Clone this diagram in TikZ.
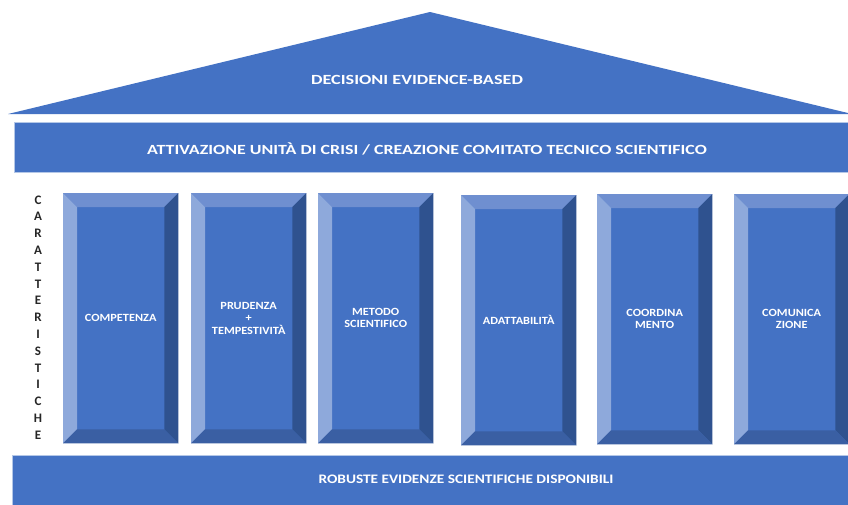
\documentclass[tikz,border=0pt]{standalone}
\usepackage{fontspec}
\setmainfont{Carlito}
\usetikzlibrary{calc}

\definecolor{tempio}{HTML}{4472C4}
\definecolor{bordo}{HTML}{B4C7E7}
\definecolor{luce}{HTML}{8EA9DB}
\definecolor{mezzaluce}{HTML}{6F8FD0}
\definecolor{ombra}{HTML}{2F528F}
\definecolor{mezzombra}{HTML}{3A5FA3}

% testo allargato in orizzontale
\newcommand{\largo}[2]{\scalebox{#1}[1]{#2}}

\tikzset{
  fascia/.style={fill=tempio, draw=bordo, line width=1pt},
  titolo/.style={text=white, font=\bfseries\fontsize{14}{16}\selectfont},
  colonna/.style={rectangle, fill=tempio, minimum width=115pt, minimum height=250pt,
    inner sep=0pt, anchor=north west},
  scritta/.style={text=white, font=\bfseries\fontsize{11}{12}\selectfont},
  lettera/.style={font=\bfseries\fontsize{13}{13}\selectfont, text=black!85}
}

\begin{document}
\begin{tikzpicture}[x=1pt,y=-1pt]
  \useasboundingbox[fill=white] (0,0) rectangle (848,504);

  % tetto
  \coordinate (apice) at (430,12);
  \coordinate (gronda sx) at (8,114);
  \coordinate (gronda dx) at (852,114);
  \fill[tempio] (gronda sx) -- (apice) -- (gronda dx) -- cycle;
  \node[titolo] (decisioni) at (417,80) {\largo{1.3}{DECISIONI EVIDENCE-BASED}};

  % architrave
  \draw[fascia] (14,122) rectangle (852,172);
  \node[titolo] (crisi) at (427,149)
    {\largo{1.28}{ATTIVAZIONE UNITÀ DI CRISI / CREAZIONE COMITATO TECNICO SCIENTIFICO}};

  % basamento
  \draw[fascia] (12,455) rectangle (852,510);
  \node[titolo, font=\bfseries\fontsize{13}{15}\selectfont] (evidenze) at (466,479)
    {\largo{1.18}{ROBUSTE EVIDENZE SCIENTIFICHE DISPONIBILI}};

  % scritta verticale
  \foreach \l [count=\i] in {C,A,R,A,T,T,E,R,I,S,T,I,C,H,E}
    \node[lettera] (car\i) at (38,{183+16.8*\i}) {\l};

  % colonne con smusso
  \foreach \nome/\x/\y/\testo in {
      competenza/63/193/COMPETENZA,
      prudenza/191/193/PRUDENZA\\+\\TEMPESTIVITÀ,
      metodo/318/193/METODO\\SCIENTIFICO,
      adattabilita/461/195/ADATTABILITÀ,
      coordinamento/597/194/COORDINA\\MENTO,
      comunicazione/734/194/COMUNICA\\ZIONE} {
    \node[colonna] (\nome) at (\x,\y) {};
    \fill[mezzaluce] (\nome.north west) -- (\nome.north east)
      -- ($(\nome.north east)+(-14,14)$) -- ($(\nome.north west)+(14,14)$) -- cycle;
    \fill[luce] (\nome.north west) -- ($(\nome.north west)+(14,14)$)
      -- ($(\nome.south west)+(14,-14)$) -- (\nome.south west) -- cycle;
    \fill[ombra] (\nome.north east) -- ($(\nome.north east)+(-14,14)$)
      -- ($(\nome.south east)+(-14,-14)$) -- (\nome.south east) -- cycle;
    \fill[mezzombra] (\nome.south west) -- ($(\nome.south west)+(14,-14)$)
      -- ($(\nome.south east)+(-14,-14)$) -- (\nome.south east) -- cycle;
    \node[scritta] (\nome-testo) at ($(\nome.center)+(0,1)$)
      {\largo{1.12}{\begin{tabular}{@{}c@{}}\testo\end{tabular}}};
  }
\end{tikzpicture}
\end{document}
